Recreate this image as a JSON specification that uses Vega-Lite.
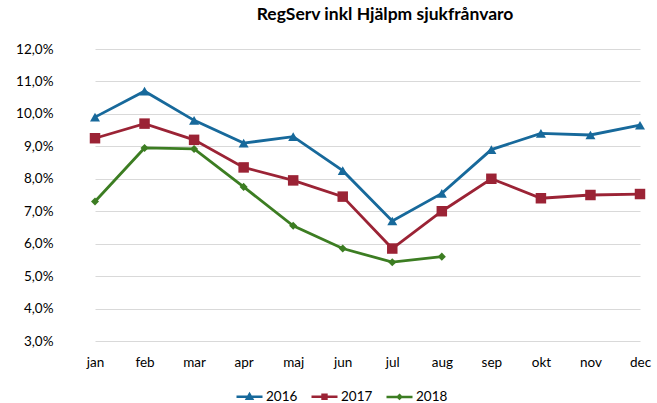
{
  "$schema": "https://vega.github.io/schema/vega-lite/v6.json",
  "width": 586,
  "height": 292,
  "autosize": "none",
  "padding": {"left": 71, "top": 49, "right": 0, "bottom": 62},
  "background": "white",
  "config": {"view": {"stroke": null}, "font": "Lato"},
  "title": {"text": "RegServ inkl Hjälpm sjukfrånvaro", "fontSize": 17.5, "fontWeight": "bold", "font": "Lato", "color": "#000000", "anchor": "middle", "dx": 21, "offset": 19},
  "data": {"values": [
    {"month": "jan", "year": "2016", "value": 9.9},
    {"month": "feb", "year": "2016", "value": 10.7},
    {"month": "mar", "year": "2016", "value": 9.8},
    {"month": "apr", "year": "2016", "value": 9.1},
    {"month": "maj", "year": "2016", "value": 9.3},
    {"month": "jun", "year": "2016", "value": 8.25},
    {"month": "jul", "year": "2016", "value": 6.7},
    {"month": "aug", "year": "2016", "value": 7.55},
    {"month": "sep", "year": "2016", "value": 8.9},
    {"month": "okt", "year": "2016", "value": 9.4},
    {"month": "nov", "year": "2016", "value": 9.35},
    {"month": "dec", "year": "2016", "value": 9.65},
    {"month": "jan", "year": "2017", "value": 9.25},
    {"month": "feb", "year": "2017", "value": 9.7},
    {"month": "mar", "year": "2017", "value": 9.2},
    {"month": "apr", "year": "2017", "value": 8.35},
    {"month": "maj", "year": "2017", "value": 7.95},
    {"month": "jun", "year": "2017", "value": 7.45},
    {"month": "jul", "year": "2017", "value": 5.85},
    {"month": "aug", "year": "2017", "value": 7.0},
    {"month": "sep", "year": "2017", "value": 8.0},
    {"month": "okt", "year": "2017", "value": 7.4},
    {"month": "nov", "year": "2017", "value": 7.5},
    {"month": "dec", "year": "2017", "value": 7.53},
    {"month": "jan", "year": "2018", "value": 7.3},
    {"month": "feb", "year": "2018", "value": 8.95},
    {"month": "mar", "year": "2018", "value": 8.92},
    {"month": "apr", "year": "2018", "value": 7.75},
    {"month": "maj", "year": "2018", "value": 6.55},
    {"month": "jun", "year": "2018", "value": 5.85},
    {"month": "jul", "year": "2018", "value": 5.43},
    {"month": "aug", "year": "2018", "value": 5.6}
  ]},
  "encoding": {
    "x": {"field": "month", "type": "ordinal", "sort": ["jan","feb","mar","apr","maj","jun","jul","aug","sep","okt","nov","dec"],
      "scale": {"type": "point", "range": [24, 569], "padding": 0},
      "axis": {"title": null, "domain": false, "ticks": false, "labelAngle": 0, "labelFontSize": 13.5, "labelColor": "#000000", "labelPadding": 14, "labelFont": "Lato", "grid": false}},
    "y": {"field": "value", "type": "quantitative",
      "scale": {"domain": [3, 12], "nice": false, "zero": false},
      "axis": {"title": null, "values": [3,4,5,6,7,8,9,10,11,12], "labelExpr": "replace(format(datum.value, '.1f'), '.', ',') + '%'", "domain": false, "ticks": false, "labelPadding": 18, "labelFontSize": 13.5, "labelColor": "#000000", "labelFont": "Lato", "gridColor": "#d9d9d9", "gridWidth": 1.2}},
    "color": {"field": "year", "type": "nominal",
      "scale": {"domain": ["2016","2017","2018"], "range": ["#17699B", "#9B2335", "#3C7D22"]},
      "legend": {"title": null, "orient": "none", "direction": "horizontal", "legendX": 164, "legendY": 333, "padding": 0, "labelFontSize": 13.5, "labelColor": "#000000", "labelFont": "Lato", "symbolSize": 676, "columnPadding": 8, "labelOffset": 2,
        "encode": {"symbols": {"update": {
          "shape": {"signal": "datum.value === '2016' ? 'M-1,0H1M0,-0.2L0.2,0.15H-0.2Z' : datum.value === '2017' ? 'M-1,0H1M-0.15,-0.15H0.15V0.15H-0.15Z' : 'M-1,0H1M0,-0.13L0.13,0L0,0.13L-0.13,0Z'"},
          "size": {"value": 676},
          "stroke": {"signal": "scale('color', datum.value)"},
          "fill": {"signal": "scale('color', datum.value)"},
          "strokeWidth": {"value": 2.5},
          "opacity": {"value": 1}
        }}}}}
  },
  "layer": [
    {"mark": {"type": "line", "strokeWidth": 2.8}},
    {"transform": [{"filter": "datum.year === '2016'"}], "mark": {"type": "point", "filled": true, "opacity": 1, "shape": "triangle-up", "size": 100}},
    {"transform": [{"filter": "datum.year === '2017'"}], "mark": {"type": "point", "filled": true, "opacity": 1, "shape": "square", "size": 110}},
    {"transform": [{"filter": "datum.year === '2018'"}], "mark": {"type": "point", "filled": true, "opacity": 1, "shape": "diamond", "size": 65}}
  ]
}
